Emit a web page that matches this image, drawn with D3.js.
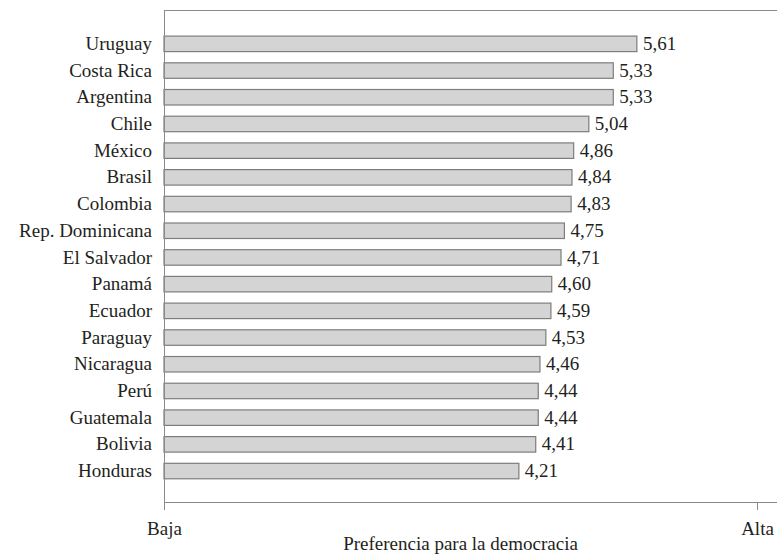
<!DOCTYPE html>
<html><head><meta charset="utf-8">
<script src="https://cdn.jsdelivr.net/npm/d3@7"></script>
<style>html,body{margin:0;padding:0;background:#fff;}</style>
</head>
<body>
<svg id="chart" width="777" height="557" font-family="Liberation Serif" fill="#231f20"></svg>
<script>
const countries = ["Uruguay","Costa Rica","Argentina","Chile","México","Brasil","Colombia","Rep. Dominicana","El Salvador","Panamá","Ecuador","Paraguay","Nicaragua","Perú","Guatemala","Bolivia","Honduras"];
const values = [5.61,5.33,5.33,5.04,4.86,4.84,4.83,4.75,4.71,4.60,4.59,4.53,4.46,4.44,4.44,4.41,4.21];
const tickValues = [0, 7.035];
const tickLabels = ["Baja","Alta"];
const axisTitle = "Preferencia para la democracia";

const FONT = "Liberation Serif";
const FS = 19;
const TXT = "#231f20";
const svg = d3.select("#chart");
const W = 777;
const mLeft = 164, mRight = 757, mTop = 10, mBottom = 502;

const x = d3.scaleLinear().domain([0, 7.035]).range([mLeft, mRight]);
const y = d3.scaleBand().domain(countries).range([30.5, 484.4]).paddingInner(0.42).paddingOuter(0.21);

const fmt = v => d3.format(".2f")(v).replace(".", ",");

svg.append("line").attr("x1", mLeft).attr("x2", W).attr("y1", mTop + 0.5).attr("y2", mTop + 0.5)
  .attr("stroke", "#8a8a8a").attr("stroke-width", 1);

const data = countries.map((c, i) => ({c, v: values[i]}));

svg.append("g").selectAll("rect").data(data).join("rect")
  .attr("x", mLeft)
  .attr("y", d => y(d.c))
  .attr("width", d => x(d.v) - mLeft)
  .attr("height", y.bandwidth())
  .attr("fill", "#d4d4d4")
  .attr("stroke", "#7d7d7d")
  .attr("stroke-width", 1.2);

// Category labels as a y axis (text only)
const yAxis = d3.axisLeft(y).tickSize(0).tickPadding(12);
const gy = svg.append("g").attr("transform", `translate(${mLeft},0)`).call(yAxis)
  .attr("font-family", FONT).attr("font-size", FS);
gy.select(".domain").remove();
gy.selectAll(".tick text").attr("fill", TXT).attr("dy", "0.32em");

// Value labels
const gv = svg.append("g").attr("font-family", FONT).attr("font-size", FS);
gv.selectAll("g").data(data).join("g")
  .attr("transform", d => `translate(${x(d.v) + 6},${y(d.c) + y.bandwidth() / 2})`)
  .append("text")
  .attr("dy", "0.32em")
  .attr("fill", TXT)
  .text(d => fmt(d.v));

svg.append("line").attr("x1", mLeft + 0.5).attr("x2", mLeft + 0.5).attr("y1", mTop).attr("y2", mBottom + 8)
  .attr("stroke", "#8a8a8a").attr("stroke-width", 1);

const xAxis = d3.axisBottom(x).tickValues(tickValues).tickFormat((d, i) => tickLabels[i]).tickSize(8).tickPadding(12);
const g = svg.append("g").attr("transform", `translate(0,${mBottom})`).call(xAxis)
  .attr("font-family", FONT).attr("font-size", FS);
g.select(".domain").remove();
g.selectAll(".tick line").attr("stroke", "#8a8a8a");
g.selectAll(".tick text").attr("fill", TXT);
svg.append("line").attr("x1", mLeft).attr("x2", W).attr("y1", mBottom + 0.5).attr("y2", mBottom + 0.5)
  .attr("stroke", "#8a8a8a").attr("stroke-width", 1);

svg.append("text")
  .attr("x", (mLeft + mRight) / 2)
  .attr("y", 550)
  .attr("text-anchor", "middle")
  .attr("font-family", FONT).attr("fill", TXT)
  .attr("font-size", FS)
  .text(axisTitle);
</script>
</body></html>
